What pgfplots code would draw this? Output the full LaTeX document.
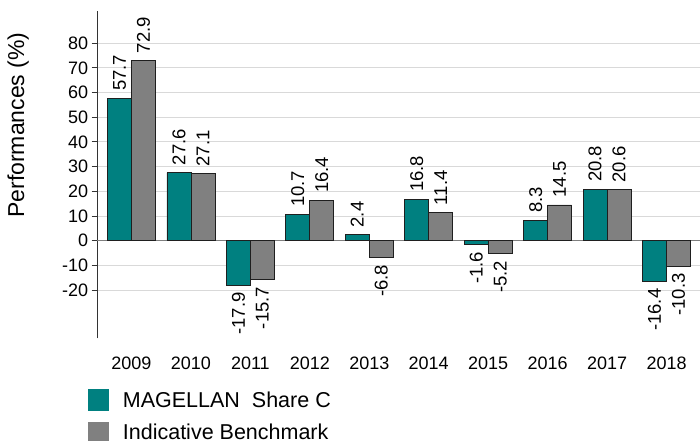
\documentclass[border=0pt]{standalone}
\usepackage{fontspec}
\setmainfont{Liberation Sans}
\usepackage{graphicx}
\usepackage{pgfplots}
\pgfplotsset{compat=1.18}
\definecolor{teal1}{HTML}{008080}
\definecolor{gray1}{HTML}{808080}
\definecolor{gridc}{HTML}{D9D9D9}
\definecolor{zeroc}{HTML}{7F7F7F}
\definecolor{edgec}{HTML}{1F1F1F}
\def\negtest#1#2\relax{\ifx-#1\pgfkeysalso{/tikz/anchor=north}\else\pgfkeysalso{/tikz/anchor=south}\fi}
\tikzset{setanc/.code={\expandafter\negtest\pgfplotspointmeta\relax}}
\begin{document}
\begin{tikzpicture}
\begin{axis}[
  name=ax,
  scale only axis,
  width=602.7bp, height=327.3bp,
  xmin=-0.575, xmax=9.563,
  ymin=-39.5, ymax=93,
  ybar=0pt, bar width=24bp,
  axis y line*=left, axis x line*=bottom,
  x axis line style={draw=none},
  y axis line style={draw=black!80, line width=0.9bp, -},
  xtick={0,1,2,3,4,5,6,7,8,9},
  xticklabels={2009,2010,2011,2012,2013,2014,2015,2016,2017,2018},
  x tick style={draw=none},
  ytick={-20,-10,0,10,20,30,40,50,60,70,80},
  yticklabels={-20,-10,0,10,20,30,40,50,60,70,80},
  y tick style={draw=black!80, line width=0.9bp},
  tick align=outside, major tick length=5.6bp,
  ymajorgrids, grid style={gridc, line width=1bp},
  extra y ticks={0}, extra y tick labels={},
  extra y tick style={grid style={zeroc, line width=1.3bp}, major tick length=0pt},
  ticklabel style={font=\fontsize{18bp}{20bp}\selectfont},
  xticklabel style={yshift=-10bp},
  ylabel={Performances (\%)},
  ylabel style={at={(rel axis cs:-0.1311,0.6517)}, anchor=center, font=\fontsize{23bp}{26bp}\selectfont},
  point meta=explicit symbolic,
  nodes near coords={\rotatebox{90}{\pgfplotspointmeta}},
  every node near coord/.append style={font=\fontsize{18.5bp}{20bp}\selectfont, inner sep=7bp, text=black, setanc},
  legend style={at={(0,0)}, anchor=north west, xshift=-9.6bp, yshift=-51bp,
    draw=none, fill=none, inner sep=0pt, row sep=10.4bp, column sep=13.4bp,
    font=\fontsize{21.5bp}{24bp}\selectfont, nodes={inner sep=0pt}},
  legend cell align=left,
  legend image code/.code={\path[#1, draw=none] (0bp,-10.85bp) rectangle (21.6bp,10.85bp);},
]
\addplot[fill=teal1, draw=edgec, line width=0.8bp] coordinates {
  (0,57.7) [57.7] (1,27.6) [27.6] (2,-17.9) [-17.9] (3,10.7) [10.7] (4,2.4) [2.4]
  (5,16.8) [16.8] (6,-1.6) [-1.6] (7,8.3) [8.3] (8,20.8) [20.8] (9,-16.4) [-16.4]
};
\addplot[fill=gray1, draw=edgec, line width=0.8bp] coordinates {
  (0,72.9) [72.9] (1,27.1) [27.1] (2,-15.7) [-15.7] (3,16.4) [16.4] (4,-6.8) [-6.8]
  (5,11.4) [11.4] (6,-5.2) [-5.2] (7,14.5) [14.5] (8,20.6) [20.6] (9,-10.3) [-10.3]
};
\legend{MAGELLAN\ \ Share C, Indicative Benchmark}
\end{axis}
\pgfresetboundingbox
\path[use as bounding box] ([xshift=-97.3bp,yshift=-102.7bp]ax.south west) rectangle ([yshift=11bp]ax.north east);
\end{tikzpicture}
\end{document}
